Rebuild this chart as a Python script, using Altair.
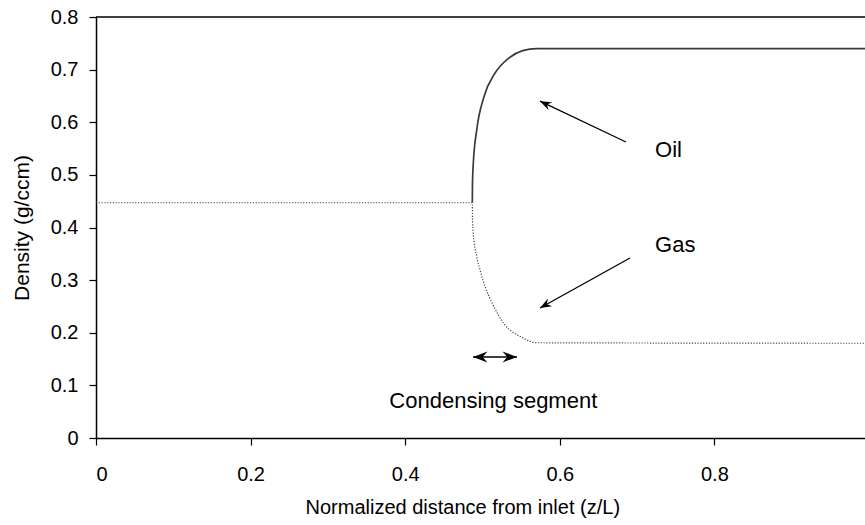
import altair as alt
import pandas as pd

# Plot area spans 769 px of a 773 px unit interval (the right edge falls just past the page)
X_MAX = 769 / 773

# Gas-phase density along the pipe (single-phase section, then condensing drop)
gas_z = [0.0, 0.4868, 0.4870, 0.4880, 0.4925, 0.4970, 0.5040, 0.5120, 0.5290, 0.5500, 0.5700, 1.0]
gas_rho = [0.447, 0.447, 0.420, 0.389, 0.345, 0.318, 0.285, 0.258, 0.215, 0.192, 0.181, 0.180]

# Oil-phase density after the dew point
oil_z = [0.4868, 0.4870, 0.4881, 0.4925, 0.5020, 0.5160, 0.5340, 0.5520, 0.5700, 1.0]
oil_rho = [0.447, 0.480, 0.522, 0.585, 0.649, 0.693, 0.722, 0.736, 0.740, 0.740]

# Annotation arrows: tail and tip
arrow_name = ["Oil", "Gas"]
arrow_tail_z = [0.6856, 0.6908]
arrow_tail_rho = [0.5625, 0.342]
arrow_tip_z = [0.5744, 0.5744]
arrow_tip_rho = [0.640, 0.247]
arrow_angle = [205.5, 150.9]

# Double arrow marking the condensing segment
seg_z = [0.4877, 0.5446]
seg_rho = [0.154, 0.154]
seg_angle = [180, 0]

# Text labels
label_text = ["Oil", "Gas"]
label_z = [0.7232, 0.7232]
label_rho = [0.547, 0.367]
seg_label = "Condensing segment"
seg_label_z = 0.514
seg_label_rho = 0.0703

FONT = "Liberation Sans"
AXIS_FS = 20
NOTE_FS = 22

x_ticks = [0, 0.2, 0.4, 0.6, 0.8]
y_ticks = [0, 0.1, 0.2, 0.3, 0.4, 0.5, 0.6, 0.7, 0.8]

x_scale = alt.Scale(domain=[0, X_MAX], nice=False, zero=False)
y_scale = alt.Scale(domain=[0, 0.8], nice=False, zero=False)

x_axis = alt.Axis(
    values=x_ticks, format=".1~f", title="Normalized distance from inlet (z/L)",
    grid=False, tickSize=7, labelPadding=19, titlePadding=13,
    titleFontSize=AXIS_FS, titleX=209, titleAlign="left",
)
y_axis = alt.Axis(
    values=y_ticks, format=".1~f", title="Density (g/ccm)",
    grid=False, tickSize=7, labelPadding=11, titlePadding=18,
    titleFontSize=21,
)


def xy(xf, yf):
    return dict(
        x=alt.X(xf, scale=x_scale, axis=x_axis),
        y=alt.Y(yf, scale=y_scale, axis=y_axis),
    )


gas_df = pd.DataFrame({"z": gas_z, "rho": gas_rho})
oil_df = pd.DataFrame({"z": oil_z, "rho": oil_rho})

gas = alt.Chart(gas_df).mark_line(
    color="#444444", strokeWidth=1.2, strokeDash=[1.2, 1.6], interpolate="monotone", clip=True
).encode(**xy("z:Q", "rho:Q"))

oil = alt.Chart(oil_df).mark_line(
    color="#3a3a3a", strokeWidth=1.7, interpolate="monotone", clip=True
).encode(**xy("z:Q", "rho:Q"))

top_border = alt.Chart(pd.DataFrame({"a": [0]})).mark_rule(
    color="black", strokeWidth=1.5
).encode(y=alt.Y(datum=0.8, scale=y_scale, axis=y_axis))

arrows_df = pd.DataFrame({
    "name": arrow_name, "z": arrow_tail_z, "rho": arrow_tail_rho,
    "z2": arrow_tip_z, "rho2": arrow_tip_rho, "angle": arrow_angle,
})
arrow_lines = alt.Chart(arrows_df).mark_rule(color="black", strokeWidth=1.3).encode(
    **xy("z:Q", "rho:Q"), x2="z2:Q", y2="rho2:Q",
)

# Stealth arrowhead with its tip at the origin, pointing along +x
HEAD = "M 0 0 L -2.1 -0.8 L -1.4 0 L -2.1 0.8 Z"

arrow_heads = alt.Chart(arrows_df).mark_point(
    shape=HEAD, filled=True, color="black", opacity=1, size=120, strokeWidth=0
).encode(
    **xy("z2:Q", "rho2:Q"),
    angle=alt.Angle("angle:Q", scale=None),
)

seg_df = pd.DataFrame({"z": seg_z, "rho": seg_rho, "angle": seg_angle})
seg_line = alt.Chart(seg_df).mark_line(color="black", strokeWidth=1.4).encode(
    **xy("z:Q", "rho:Q"),
)
seg_heads = alt.Chart(seg_df).mark_point(
    shape=HEAD, filled=True, color="black", opacity=1, size=190, strokeWidth=0
).encode(
    **xy("z:Q", "rho:Q"),
    angle=alt.Angle("angle:Q", scale=None),
)

labels_df = pd.DataFrame({"text": label_text, "z": label_z, "rho": label_rho})
labels = alt.Chart(labels_df).mark_text(
    align="left", baseline="middle", font=FONT, fontSize=NOTE_FS, color="black"
).encode(
    **xy("z:Q", "rho:Q"),
    text="text:N",
)

seg_text = alt.Chart(pd.DataFrame({"text": [seg_label], "z": [seg_label_z], "rho": [seg_label_rho]})).mark_text(
    align="center", baseline="middle", font=FONT, fontSize=NOTE_FS, color="black"
).encode(
    **xy("z:Q", "rho:Q"),
    text="text:N",
)

chart = alt.layer(
    top_border, gas, oil, arrow_lines, arrow_heads, seg_line, seg_heads, labels, seg_text
).properties(
    width=769, height=421,
    autosize=alt.AutoSizeParams(type="none"),
    padding={"left": 96, "top": 17, "right": 0, "bottom": 87},
    background="white",
).configure_view(
    stroke=None
).configure_axis(
    domainColor="black", domainWidth=1.5, tickColor="black", tickWidth=1.2,
    labelFont=FONT, labelFontSize=AXIS_FS, labelColor="black",
    titleFont=FONT, titleFontWeight="normal", titleColor="black",
)

chart.save("out.html", embed_options={"renderer": "svg", "actions": False})
